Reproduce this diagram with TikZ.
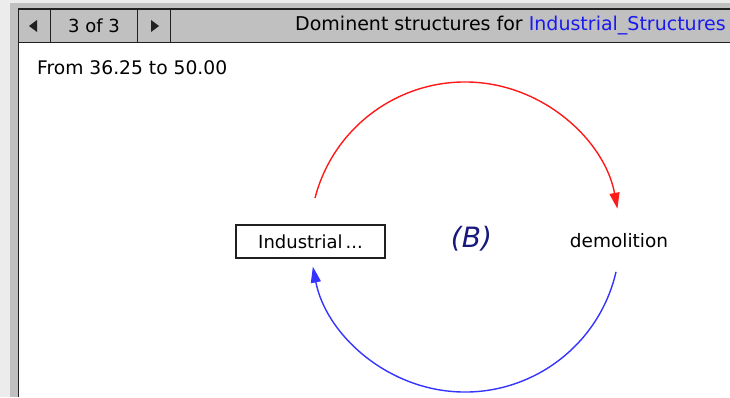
\documentclass[tikz,border=0pt]{standalone}
\usepackage{fontspec}
\setmainfont{DejaVu Sans}
\usetikzlibrary{arrows.meta,calc}
\definecolor{framegray}{HTML}{C0C0C0}
\definecolor{outergray}{HTML}{ECECEC}
\definecolor{darkline}{HTML}{202020}
\definecolor{linkred}{HTML}{FF1A1A}
\definecolor{linkblue}{HTML}{3535FF}
\definecolor{titleblue}{HTML}{1A1AF0}
\definecolor{loopnavy}{HTML}{18187E}
\tikzset{
  x=1pt, y=1pt,
  txt/.style={inner sep=0pt, font=\fontsize{18}{20}\selectfont},
  stockbox/.style={draw=darkline, line width=1.2pt, minimum width=149pt, minimum height=33pt, inner sep=0pt, font=\fontsize{18}{20}\selectfont},
  framelineh/.style={draw=darkline, line width=1.6pt},
  redlink/.style={draw=linkred, line width=1.4pt, -{Triangle[length=16pt,width=10pt]}},
  bluelink/.style={draw=linkblue, line width=1.4pt, -{Triangle[length=16pt,width=10pt]}}
}
\begin{document}
\begin{tikzpicture}
\useasboundingbox (0,0) rectangle (730,397);
\begin{scope}
\clip (0,0) rectangle (730,397);
% window frame
\fill[outergray] (0,0) rectangle (730,397);
\fill[framegray] (10,0) rectangle (730,394);
\fill[white] (19,0) rectangle (730,354);
\draw[framelineh] (18.5,0) -- (18.5,388) -- (730,388);
\draw[framelineh] (18.5,354.5) -- (730,354.5);
\draw[framelineh] (50.5,354.5) -- (50.5,388);
\draw[framelineh] (137.5,354.5) -- (137.5,388);
\draw[framelineh] (170.5,354.5) -- (170.5,388);
\fill[darkline] (29,371) -- (37,377) -- (37,365) -- cycle;
\fill[darkline] (159,371) -- (151,377) -- (151,365) -- cycle;
\node[txt] (page) at (94,371) {3 of 3};
\node[txt, anchor=west, font=\fontsize{19}{21}\selectfont] (title) at (295,371) {Dominent structures for \textcolor{titleblue}{Industrial\_Structures}};
% info text
\node[txt, anchor=west, font=\fontsize{18.7}{20}\selectfont] (range) at (37,329) {From 36.25 to 50.00};
% diagram
\coordinate (ctr) at (465,160);
\node[stockbox] (ind) at (310.5,155.5) {Industrial\,...};
\node[txt, font=\fontsize{18.5}{20}\selectfont] (dem) at (619,156) {demolition};
\node[inner sep=0pt, text=loopnavy, font=\fontsize{28}{30}\selectfont\itshape] (loop) at (471.5,158) {(B)};
\coordinate (redstart) at ($(ctr)+(165.4:155)$);
\coordinate (bluestart) at ($(ctr)+(-13:155)$);
\draw[redlink] (redstart) arc[start angle=165.4, end angle=10.5, radius=155];
\draw[bluelink] (bluestart) arc[start angle=-13, end angle=-169, radius=155];
\end{scope}
\end{tikzpicture}
\end{document}
